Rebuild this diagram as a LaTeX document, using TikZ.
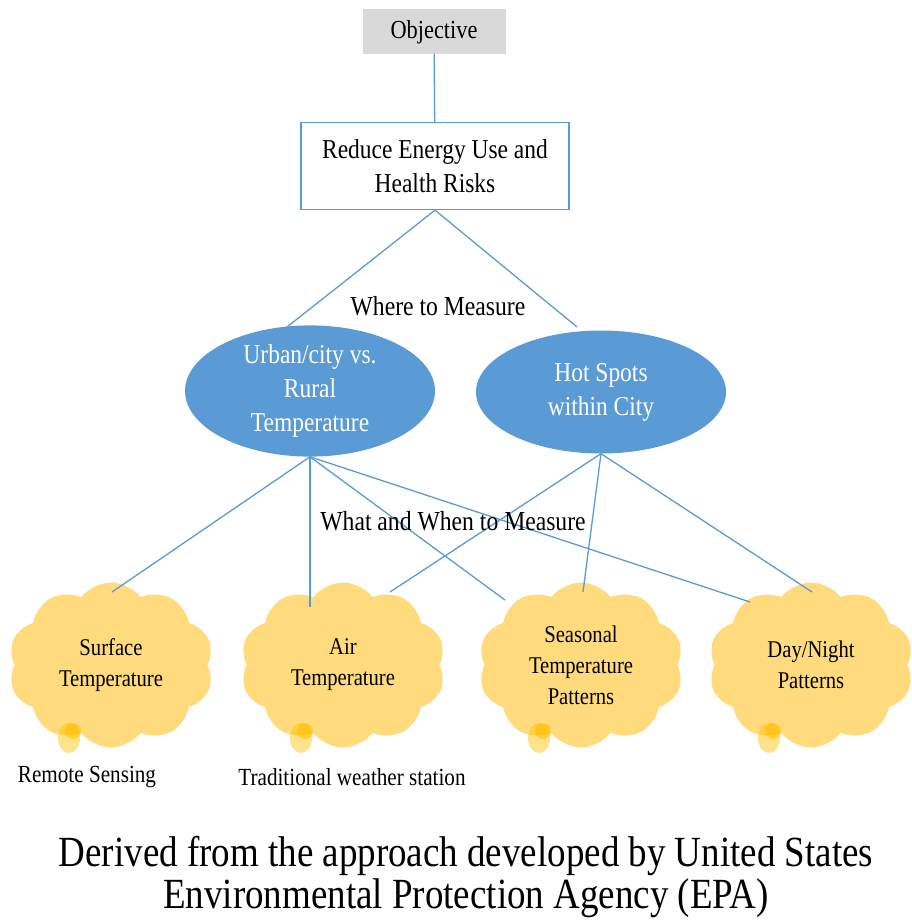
\documentclass[tikz,border=0pt]{standalone}
\usepackage{fontspec}
\setmainfont[FakeStretch=0.86]{Liberation Serif}
\usetikzlibrary{positioning,shapes.geometric,shapes.symbols}
\definecolor{linkblue}{HTML}{5B9BD5}
\definecolor{cloudgold}{HTML}{FFDB7E}
\definecolor{dropgold}{HTML}{FFC000}
\definecolor{objgray}{HTML}{D9D9D9}
\tikzset{
  link/.style={draw=linkblue, line width=1.3pt},
  objbox/.style={fill=objgray, minimum width=143pt, minimum height=45pt, text depth=3pt, font=\fontsize{26}{30}\selectfont},
  goalbox/.style={draw=linkblue, line width=1.3pt, fill=white, minimum width=268pt, minimum height=87pt, align=center, font=\fontsize{27.3}{34}\selectfont},
  scopeell/.style={ellipse, fill=linkblue, text=white, minimum width=250pt, minimum height=123pt, inner sep=0pt, align=center, font=\fontsize{27.3}{34}\selectfont},
  metriccloud/.style={cloud, cloud puffs=10, cloud puff arc=105, aspect=1.25, fill=cloudgold, minimum width=205pt, minimum height=165pt, inner sep=0pt, align=center, font=\fontsize{24}{31}\selectfont},
  relabel/.style={font=\fontsize{27.5}{30}\selectfont},
  toollabel/.style={font=\fontsize{24.6}{26}\selectfont},
  caption/.style={align=center, font=\fontsize{43}{42}\selectfont}
}

\begin{document}
\begin{tikzpicture}[x=1pt, y=-1pt]
  \useasboundingbox (0,0) rectangle (912,921);
  % connectors first, nodes on top
  \coordinate (w1) at (287,327);
  \coordinate (w2) at (577,327);
  \coordinate (c1) at (112,592);
  \coordinate (c2) at (310,607);
  \coordinate (c3) at (505,600);
  \coordinate (c4) at (750,602);
  \coordinate (h2) at (390,592);
  \coordinate (h3) at (583,592);
  \coordinate (h4) at (812,592);

  \node[objbox] (obj) at (434,31) {Objective};
  \node[goalbox] (goal) at (435,166) {Reduce Energy Use and\\Health Risks};
  \draw[link] (obj) -- (goal);
  \draw[link] (goal.south) -- (w1);
  \draw[link] (goal.south) -- (w2);
  \node[relabel] (where) at (438,306) {Where to Measure};

  \node[scopeell] (urban) at (310,391) {Urban/city vs.\\Rural\\Temperature};
  \node[scopeell] (hot) at (601,392) {Hot Spots\\within City};

  \node[metriccloud] (surf) at (111,665) {Surface\\Temperature};
  \node[metriccloud] (air) at (343,665) {Air\\Temperature};
  \node[metriccloud] (season) at (581,665) {Seasonal\\Temperature\\Patterns};
  \node[metriccloud] (daynight) at (811,665) {Day/Night\\Patterns};
  \foreach \cl in {surf,air,season,daynight} {
    \fill[dropgold, opacity=0.45] ([shift={(-42,73)}]\cl.center) ellipse (11pt and 15pt);
    \fill[dropgold, opacity=0.6] ([shift={(-38,66)}]\cl.center) circle (8pt);
  }

  \draw[link] (urban.south) -- (c1);
  \draw[link] (urban.south) -- (c2);
  \draw[link] (urban.south) -- (c3);
  \draw[link] (urban.south) -- (c4);
  \draw[link] (hot.south) -- (h2);
  \draw[link] (hot.south) -- (h3);
  \draw[link] (hot.south) -- (h4);
  \node[relabel] (what) at (453,521) {What and When to Measure};

  \node[toollabel] (remote) at (87,777) {Remote Sensing};
  \node[toollabel] (station) at (352,777) {Traditional weather station};
  \node[caption] (source) at (466,877) {Derived from the approach developed by United States\\Environmental Protection Agency (EPA)};
\end{tikzpicture}
\end{document}
